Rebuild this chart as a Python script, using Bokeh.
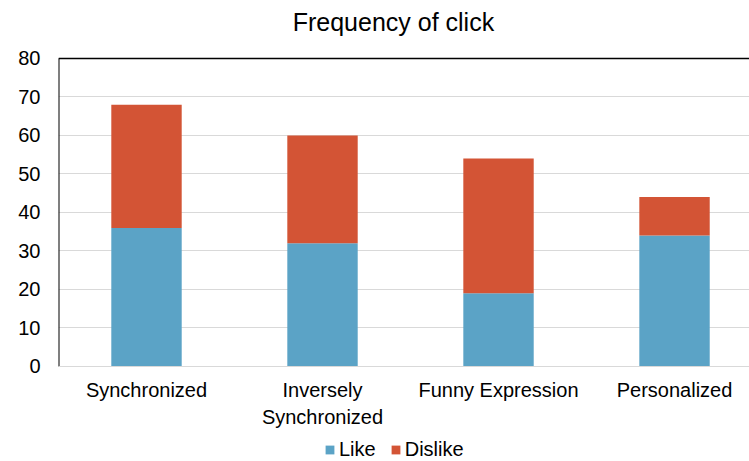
from bokeh.plotting import figure
from bokeh.models import (ColumnDataSource, FixedTicker, Range1d, Legend, LegendItem,
                          Span, Label)
from bokeh.embed import file_html
from bokeh.resources import INLINE

# Click counts per interaction style
categories = ["Synchronized", "Inversely\nSynchronized", "Funny Expression", "Personalized"]
like = [36, 32, 19, 34]
dislike = [32, 28, 35, 10]
y_ticks = [0, 10, 20, 30, 40, 50, 60, 70, 80]

FONT = "Liberation Sans"
BLUE = "#5BA3C6"
RED = "#D35435"

xs = [i + 0.5 for i in range(len(categories))]
like_top = like
dislike_top = [a + b for a, b in zip(like, dislike)]

src = ColumnDataSource(dict(x=xs, like=like_top, dislike_bottom=like_top, dislike_top=dislike_top))

# the frame covers the whole canvas height; room above 80 holds the title,
# room below 0 holds the category labels and the legend
p = figure(width=749, height=461, output_backend="svg", toolbar_location=None,
           x_range=Range1d(0, 3.926), y_range=Range1d(-24.68, 95.06))
p.min_border_left = 58
p.min_border_right = 0
p.min_border_top = 0
p.min_border_bottom = 0
p.outline_line_color = None
p.background_fill_color = "white"
p.border_fill_color = "white"

r_like = p.vbar(x="x", width=0.4, bottom=0, top="like", source=src,
                fill_color=BLUE, line_color=None)
r_dis = p.vbar(x="x", width=0.4, bottom="dislike_bottom", top="dislike_top", source=src,
               fill_color=RED, line_color=None)

# grid
p.xgrid.grid_line_color = None
p.ygrid.grid_line_color = "#d9d9d9"
p.ygrid.grid_line_width = 1
p.yaxis.ticker = FixedTicker(ticks=y_ticks)

# y axis (its line is drawn separately so it stops at the value range)
p.yaxis.axis_line_color = None
p.yaxis.major_tick_line_color = None
p.yaxis.minor_tick_line_color = None
p.yaxis.major_label_text_font = FONT
p.yaxis.major_label_text_font_size = "20px"
p.yaxis.major_label_text_color = "black"
p.yaxis.major_label_standoff = 12
p.segment(x0=[0], y0=[y_ticks[0]], x1=[0], y1=[y_ticks[-1]], line_color="black", line_width=2)

# x axis with category names, pinned to the zero line
p.xaxis.fixed_location = 0
p.xaxis.ticker = FixedTicker(ticks=xs)
p.xaxis.major_label_overrides = {x: c for x, c in zip(xs, categories)}
p.xaxis.axis_line_color = "#d9d9d9"
p.xaxis.major_tick_line_color = None
p.xaxis.minor_tick_line_color = None
p.xaxis.major_label_text_font = FONT
p.xaxis.major_label_text_font_size = "20px"
p.xaxis.major_label_text_color = "black"
p.xaxis.major_label_standoff = 7

# top border of the value area
p.add_layout(Span(location=y_ticks[-1], dimension="width", line_color="black", line_width=1.5))

# chart title
p.add_layout(Label(x=1.903, y=89.35, text="Frequency of click", text_align="center",
                   text_baseline="middle", text_font=FONT, text_font_size="25px",
                   text_color="black"))

legend = Legend(items=[LegendItem(label="Like", renderers=[r_like]),
                       LegendItem(label="Dislike", renderers=[r_dis])],
                orientation="horizontal", location=(266, 0))
legend.label_text_font = FONT
legend.label_text_font_size = "20px"
legend.label_text_color = "black"
legend.glyph_width = 11
legend.glyph_height = 11
legend.label_height = 20
legend.label_standoff = 4
legend.spacing = 14
legend.border_line_color = None
legend.background_fill_alpha = 0
legend.padding = 0
legend.margin = 0
p.add_layout(legend, "center")

open("out.html", "w").write(file_html(p, INLINE))
